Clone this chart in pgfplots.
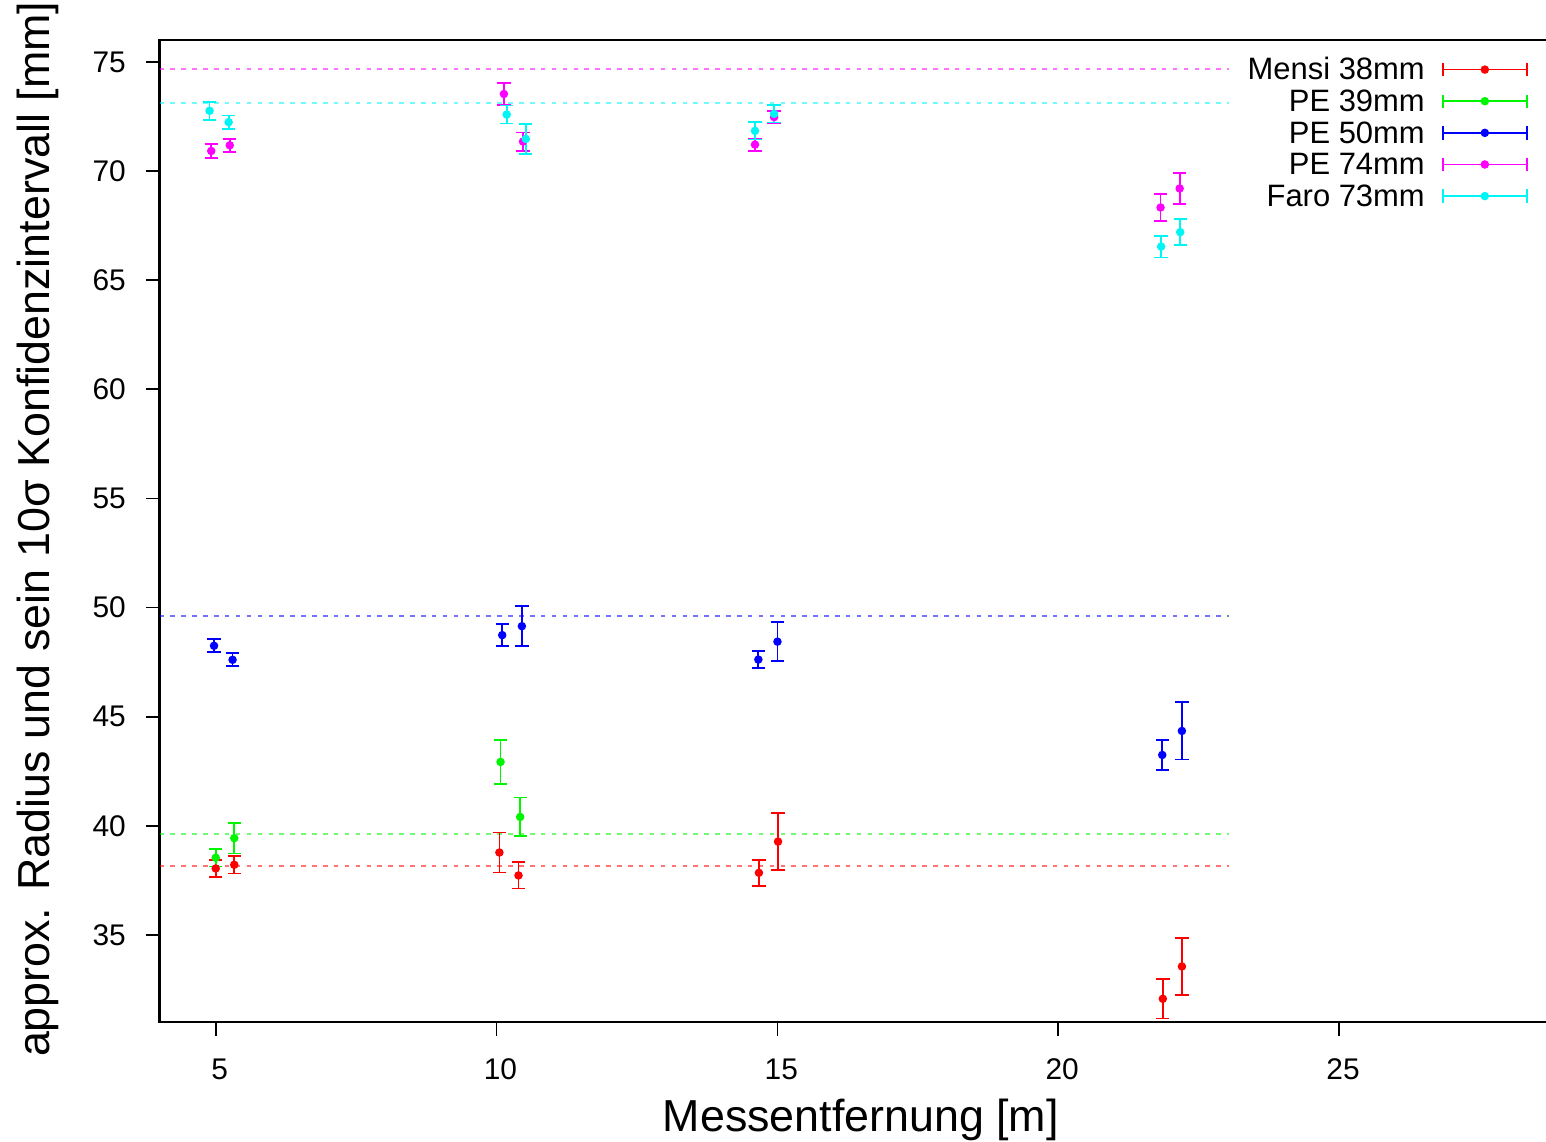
\documentclass[border=0pt]{standalone}
\usepackage{fontspec}
\setmainfont{Liberation Sans}
\usepackage{pgfplots}
\pgfplotsset{compat=1.18}
\definecolor{cRed}{RGB}{255,0,0}
\definecolor{cGreen}{RGB}{0,245,0}
\definecolor{cBlue}{RGB}{0,0,255}
\definecolor{cMag}{RGB}{255,0,255}
\definecolor{cCyan}{RGB}{0,245,245}
\pgfplotsset{errleg/.style={legend image code/.code={
  \draw[line width=0.5pt] (0pt,1.2pt) -- (23.9pt,1.2pt);
  \draw[line width=0.5pt] (0pt,-0.7pt) -- (0pt,3.1pt);
  \draw[line width=0.5pt] (23.9pt,-0.7pt) -- (23.9pt,3.1pt);
  \fill (11.95pt,1.2pt) circle (1pt);}},
  ebar/.style={only marks, mark=*, mark size=1pt, errleg,
    /pgfplots/error bars/y dir=both, /pgfplots/error bars/y explicit,
    /pgfplots/error bars/error bar style={line width=0.5pt},
    /pgfplots/error bars/error mark options={rotate=90, mark size=1.9pt, line width=0.5pt}},
  refline/.style={line width=0.6pt, opacity=0.55, dash pattern=on 1.3pt off 1.8pt, forget plot}
}
\begin{document}
\begin{tikzpicture}
\begin{axis}[
  scale only axis, width=394.8pt, height=279.5pt,
  xmin=4, xmax=28.7, ymin=31, ymax=76,
  xtick={5,10,15,20,25}, ytick={35,40,...,75},
  tick align=outside, tick pos=left, major tick length=3.8pt,
  axis line style={line width=0.6pt},
  every tick/.style={black, line width=0.5pt},
  /pgf/number format/assume math mode=true,
  tick label style={font=\fontsize{8.5}{10}\selectfont, inner sep=0pt},
  yticklabel style={anchor=east, xshift=-5.6pt},
  xticklabel style={anchor=north, yshift=-6.3pt, xshift=1.1pt},
  xlabel={Messentfernung [m]},
  ylabel={approx. Radius und sein 10σ Konfidenzintervall [mm]},
  label style={font=\fontsize{12.75}{15}\selectfont},
  xlabel style={at={(axis description cs:0.5054,-0.1115)}, anchor=base, inner sep=0pt},
  ylabel style={at={(axis description cs:-0.0790,0.502)}, anchor=base, inner sep=0pt},
  legend plot pos=right,
  legend cell align=right,
  legend style={draw=none, fill=none, at={(rel axis cs:1,1)}, anchor=north east,
    xshift=-5.3pt, yshift=-4.9pt, inner sep=0pt, row sep=0pt, column sep=4.9pt,
    font=\fontsize{8.8}{10}\selectfont,
    nodes={inner sep=0pt, text height=6.25pt, text depth=2.75pt}},
]
\addplot[refline, cRed] coordinates {(4,38.16) (23.03,38.16)};
\addplot[refline, cGreen] coordinates {(4,39.62) (23.03,39.62)};
\addplot[refline, cBlue] coordinates {(4,49.62) (23.03,49.62)};
\addplot[refline, cMag] coordinates {(4,74.67) (23.03,74.67)};
\addplot[refline, cCyan] coordinates {(4,73.10) (23.03,73.10)};

\addplot[color=cRed, ebar] table[x=x, y=y, y error=e] {
x y e
5.00 38.05 0.39
5.33 38.22 0.40
10.05 38.78 0.92
10.39 37.73 0.60
14.67 37.85 0.60
15.01 39.28 1.30
21.86 32.08 0.90
22.20 33.56 1.30
};
\addlegendentry{Mensi 38mm}
\addplot[color=cGreen, ebar] table[x=x, y=y, y error=e] {
x y e
5.00 38.54 0.40
5.33 39.44 0.70
10.07 42.93 1.00
10.42 40.41 0.89
};
\addlegendentry{PE 39mm}
\addplot[color=cBlue, ebar] table[x=x, y=y, y error=e] {
x y e
4.97 48.25 0.30
5.30 47.61 0.30
10.10 48.74 0.50
10.45 49.15 0.91
14.66 47.62 0.38
15.00 48.44 0.90
21.85 43.25 0.70
22.20 44.35 1.31
};
\addlegendentry{PE 50mm}
\addplot[color=cMag, ebar] table[x=x, y=y, y error=e] {
x y e
4.92 70.92 0.31
5.25 71.18 0.30
10.13 73.53 0.49
10.47 71.35 0.42
14.60 71.21 0.28
14.94 72.47 0.29
21.82 68.33 0.61
22.16 69.20 0.71
};
\addlegendentry{PE 74mm}
\addplot[color=cCyan, ebar] table[x=x, y=y, y error=e] {
x y e
4.89 72.76 0.41
5.23 72.24 0.30
10.18 72.59 0.41
10.52 71.47 0.70
14.60 71.84 0.40
14.94 72.62 0.40
21.83 66.54 0.50
22.17 67.20 0.60
};
\addlegendentry{Faro 73mm}
\end{axis}
\pgfresetboundingbox
\path[use as bounding box] (-45.4pt,-33.86pt) rectangle (394.5pt,290.9pt);
\end{tikzpicture}
\end{document}
